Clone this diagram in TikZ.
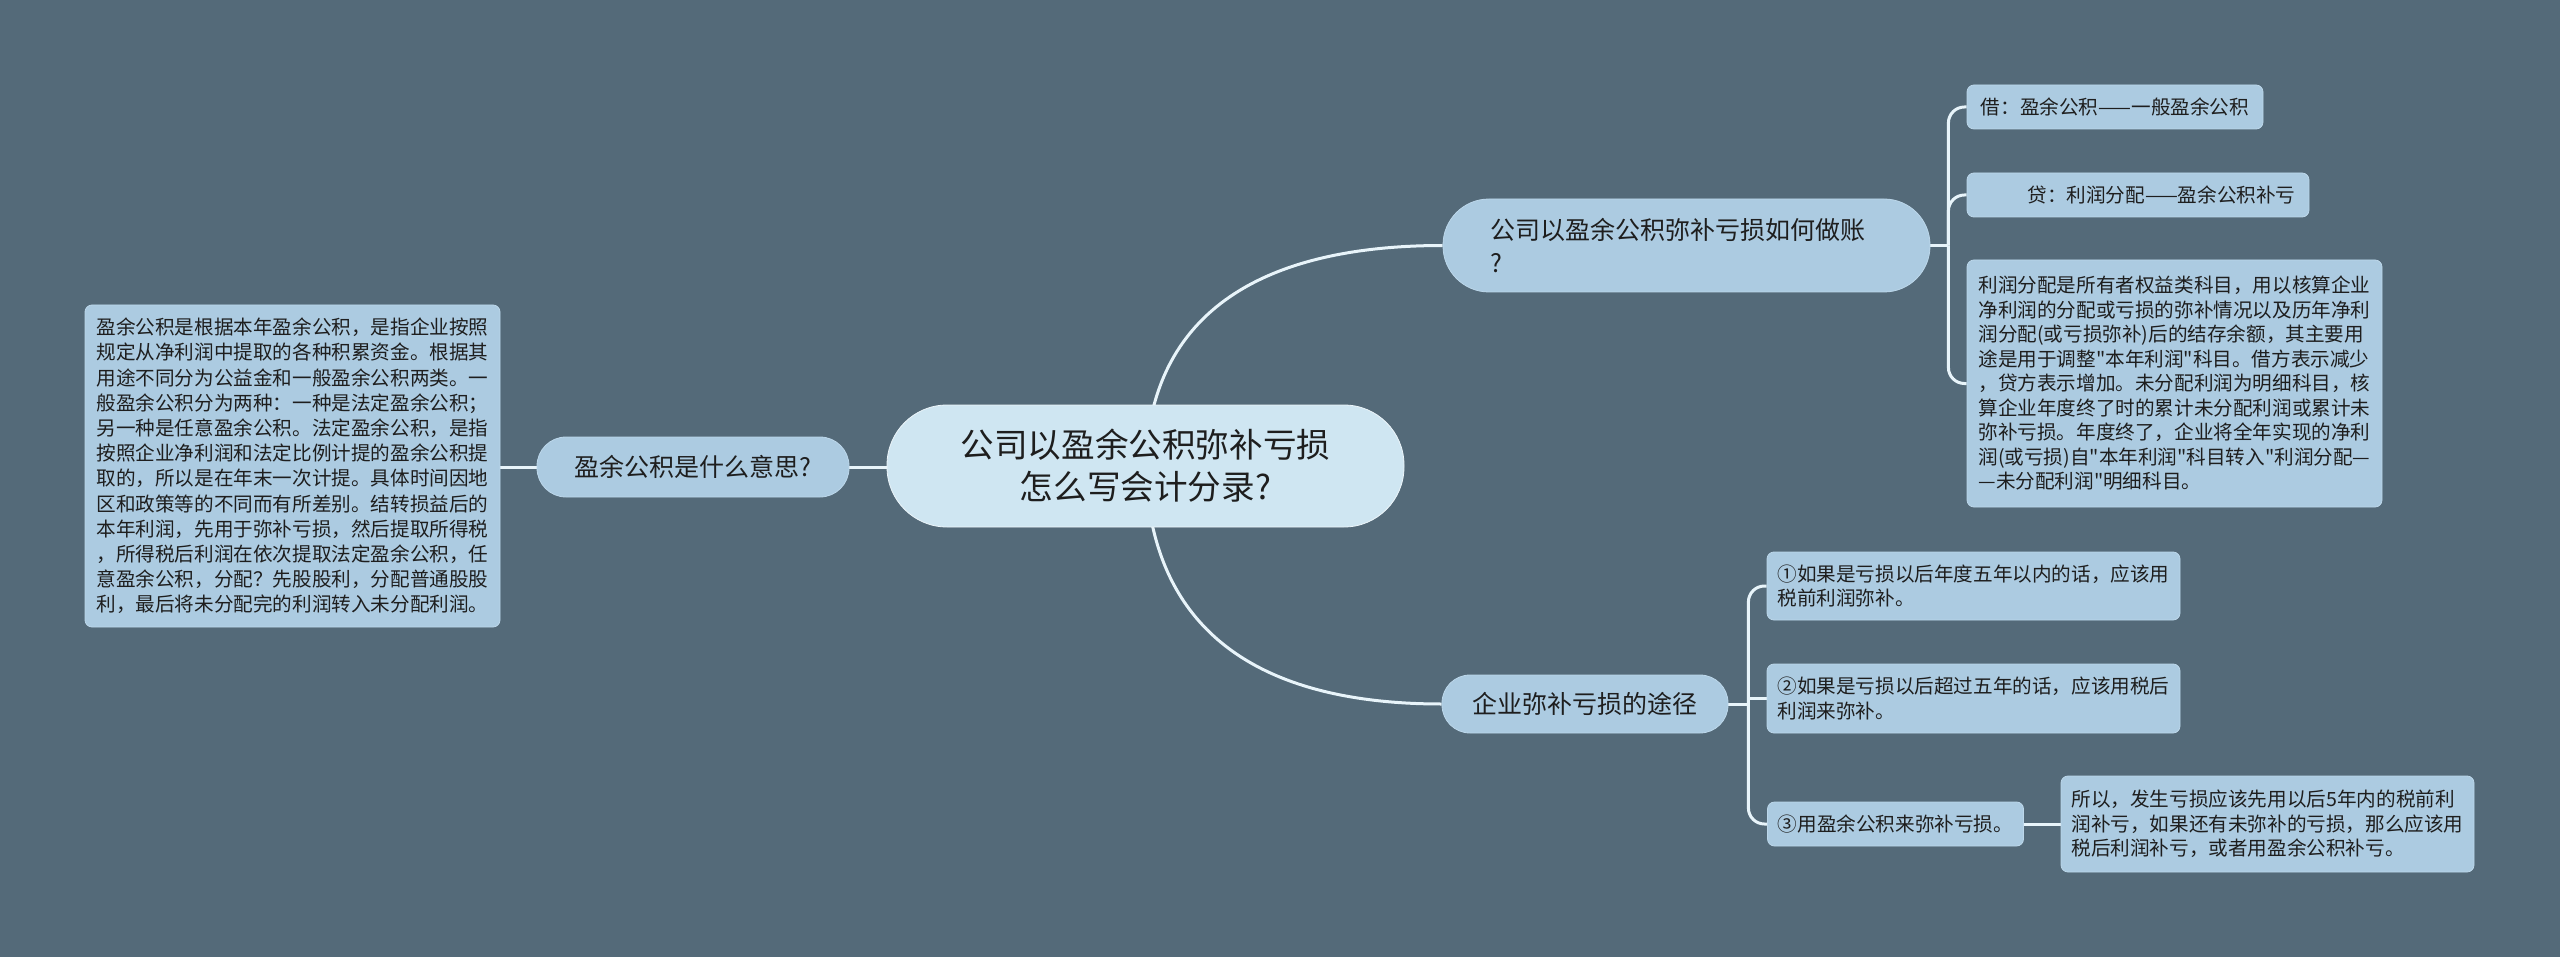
\documentclass[tikz,border=0pt]{standalone}
\usepackage{fontspec}
\setmainfont{Noto Sans CJK SC}[Ligatures=TeXOff]
\usetikzlibrary{calc}
\definecolor{bgslate}{HTML}{546A79}
\definecolor{rootfill}{HTML}{CFE6F2}
\definecolor{boxfill}{HTML}{ACCBE1}
\definecolor{boxedge}{HTML}{BCD7EA}
\definecolor{linkline}{HTML}{E8F4FA}
\definecolor{inktext}{HTML}{1E1E1E}
\pgfdeclarelayer{bg}
\pgfdeclarelayer{edges}
\pgfsetlayers{bg,edges,main}
\begin{document}
\begin{tikzpicture}[x=0.5pt, y=-0.5pt, line join=round, line cap=round,
	link/.style={draw=linkline, line width=1.5pt},
	pill/.style={fill=boxfill, draw=boxedge, line width=0.4pt, text=inktext, inner sep=0pt, font=\fontsize{12.5}{16.5}\selectfont},
	leaf/.style={fill=boxfill, draw=boxedge, line width=0.4pt, rounded corners=3.5pt, text=inktext, inner xsep=5pt, inner ysep=0pt, align=left, font=\fontsize{9.8}{12.3}\selectfont}]
	\useasboundingbox (0,0) rectangle (2560,957);
	\begin{pgfonlayer}{bg}
		\fill[bgslate] (0,0) rectangle (2560,957);
	\end{pgfonlayer}
	% centre
	\node[fill=rootfill, draw=white!60!rootfill, line width=0.4pt, text=inktext, rounded corners=30pt, minimum width=258.5pt, minimum height=61pt, inner sep=0pt, align=center, font=\fontsize{16.8}{21}\selectfont] (root) at (1145.5,466) {公司以盈余公积弥补亏损\\怎么写会计分录?};
	% left side
	\node[pill, rounded corners=14.5pt, minimum width=156pt, minimum height=30pt] (mean) at (693,467) {盈余公积是什么意思?};
	\node[leaf, text width=196pt, minimum width=207.5pt, minimum height=161pt, font=\fontsize{9.8}{12.6}\selectfont] (meantxt) at (292.5,466) {盈余公积是根据本年盈余公积，是指企业按照\\规定从净利润中提取的各种积累资金。根据其\\用途不同分为公益金和一般盈余公积两类。一\\般盈余公积分为两种：一种是法定盈余公积；\\另一种是任意盈余公积。法定盈余公积，是指\\按照企业净利润和法定比例计提的盈余公积提\\取的，所以是在年末一次计提。具体时间因地\\区和政策等的不同而有所差别。结转损益后的\\本年利润，先用于弥补亏损，然后提取所得税\\，所得税后利润在依次提取法定盈余公积，任\\意盈余公积，分配？先股股利，分配普通股股\\利，最后将未分配完的利润转入未分配利润。};
	% upper right
	\node[pill, rounded corners=23pt, minimum width=243.5pt, minimum height=46.5pt, text width=196.5pt, align=left] (book) at (1686.5,245.5) {公司以盈余公积弥补亏损如何做账\\?};
	\node[leaf, minimum width=148pt, minimum height=22pt] (debit) at (2115,107) {借：盈余公积——一般盈余公积};
	\node[leaf, minimum width=171pt, minimum height=22pt] (credit) at (2138,195) {\hspace*{23.5pt}贷：利润分配——盈余公积补亏};
	\node[leaf, text width=196pt, minimum width=207.5pt, minimum height=123.5pt, font=\fontsize{9.8}{12.25}\selectfont] (profit) at (2174.5,383.5) {利润分配是所有者权益类科目，用以核算企业\\净利润的分配或亏损的弥补情况以及历年净利\\润分配(或亏损弥补)后的结存余额，其主要用\\途是用于调整"本年利润"科目。借方表示减少\\，贷方表示增加。未分配利润为明细科目，核\\算企业年度终了时的累计未分配利润或累计未\\弥补亏损。年度终了，企业将全年实现的净利\\润(或亏损)自"本年利润"科目转入"利润分配—\\—未分配利润"明细科目。};
	% lower right
	\node[pill, rounded corners=14pt, minimum width=143pt, minimum height=29pt] (ways) at (1585,704) {企业弥补亏损的途径};
	\node[leaf, text width=196pt, minimum width=206.5pt, minimum height=34pt] (way1) at (1973.5,586) {①如果是亏损以后年度五年以内的话，应该用\\税前利润弥补。};
	\node[leaf, text width=196pt, minimum width=206.5pt, minimum height=34.5pt] (way2) at (1973.5,698.5) {②如果是亏损以后超过五年的话，应该用税后\\利润来弥补。};
	\node[leaf, minimum width=128pt, minimum height=22pt] (way3) at (1895.5,824) {③用盈余公积来弥补亏损。};
	\node[leaf, text width=196pt, minimum width=206.5pt, minimum height=48pt] (way3txt) at (2267.5,824) {所以，发生亏损应该先用以后5年内的税前利\\润补亏，如果还有未弥补的亏损，那么应该用\\税后利润补亏，或者用盈余公积补亏。};
	\begin{pgfonlayer}{edges}
		\draw[link] (mean.east) -- (mean.east -| root.west);
		\draw[link] (mean.west) -- (mean.west -| meantxt.east);
		\draw[link] (root.center) .. controls +(5,-166) and +(-163,0) .. (book.west);
		\draw[link] (root.center) .. controls +(5,180) and +(-163,0) .. (ways.west);
		\draw[link] (book.east) -- ++(18,0) coordinate (fork1);
		\draw[link, rounded corners=8pt] (fork1) |- (debit.west);
		\draw[link, rounded corners=8pt] (fork1) |- (credit.west);
		\draw[link, rounded corners=8pt] (fork1) |- (profit.west);
		\draw[link] (ways.east) -- ++(20,0) coordinate (fork2);
		\draw[link, rounded corners=8pt] (fork2) |- (way1.west);
		\draw[link] (fork2) |- (way2.west);
		\draw[link, rounded corners=8pt] (fork2) |- (way3.west);
		\draw[link] (way3.east) -- (way3txt.west);
	\end{pgfonlayer}
\end{tikzpicture}
\end{document}
